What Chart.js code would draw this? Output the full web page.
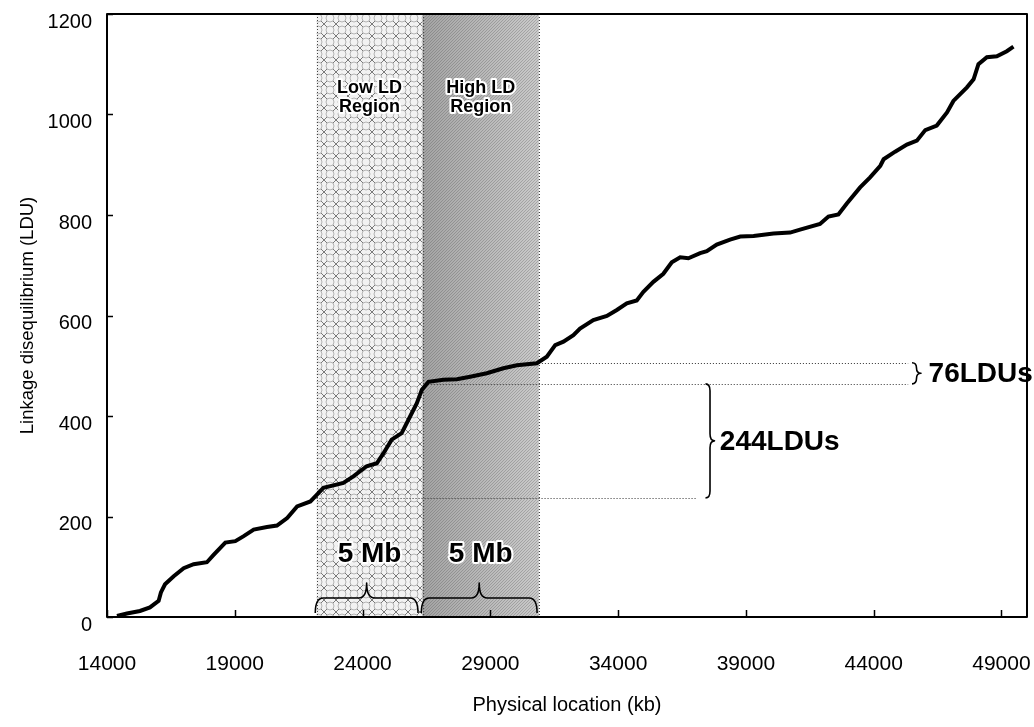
<!DOCTYPE html>
<html>
<head>
<meta charset="utf-8">
<script src="https://cdn.jsdelivr.net/npm/chart.js@4.4.0/dist/chart.umd.min.js"></script>
<style>
html, body { margin: 0; padding: 0; background: #fff; }
#graph { display: block; }
</style>
</head>
<body>
<canvas id="graph" width="1034" height="727"></canvas>
<script>
// cumulative LD map
var g_positionKb = [14390, 14780, 15290, 15680, 16020, 16110, 16270, 16610, 17000, 17390,
    17910, 18180, 18630, 19020, 19350, 19740, 20260, 20650, 21050, 21440,
    21960, 22150, 22470, 23250, 23640, 24160, 24560, 24820, 25140, 25530,
    25860, 26120, 26320, 26580, 27160, 27690, 28210, 28860, 29510, 30040,
    30820, 31210, 31540, 31860, 32250, 32510, 33030, 33560, 33950, 34340,
    34730, 34990, 35380, 35770, 36100, 36430, 36750, 37210, 37470, 37860,
    38380, 38780, 39300, 40080, 40730, 41120, 41900, 42230, 42620, 42950,
    43470, 43860, 44260, 44390, 44840, 45300, 45690, 46020, 46470, 46870,
    47120, 47650, 47910, 48100, 48430, 48820, 49210, 49470];
var g_ldu = [2, 7, 12, 19, 32, 49, 65, 81, 97, 105,
    109, 124, 148, 151, 161, 174, 179, 182, 197, 220,
    230, 240, 257, 267, 280, 300, 306, 326, 353, 366,
    399, 425, 452, 468, 472, 473, 478, 485, 495, 501,
    505, 518, 541, 548, 561, 574, 591, 599, 611, 624,
    630, 647, 667, 683, 706, 716, 714, 724, 728, 741,
    751, 757, 758, 763, 765, 771, 782, 797, 801, 823,
    855, 875, 898, 911, 926, 940, 948, 969, 978, 1004,
    1027, 1054, 1070, 1100, 1114, 1116, 1126, 1135];
var g_xTickValues = [14000, 19000, 24000, 29000, 34000, 39000, 44000, 49000];
var g_yTickValues = [0, 200, 400, 600, 800, 1000, 1200];

var g_lowRegion = [22200, 26350];
var g_highRegion = [26350, 30900];
var g_lowLabel = ["Low LD", "Region"];
var g_highLabel = ["High LD", "Region"];
var g_sizeLabel = "5 Mb";
var g_lowBrace = [22150, 26170];
var g_highBrace = [26300, 30830];

// dotted guide lines: [ldu, fromKb, toKb]
var g_guides = [[506, 30900, 45350], [464, 26550, 45350], [237, 22200, 37100]];
// gap braces: [kb, topLdu, bottomLdu, label, labelKb]
var g_gaps = [[45500, 506, 464, "76LDUs", 46150], [37420, 464, 237, "244LDUs", 37980]];

var g_font = "'Liberation Sans', Arial, sans-serif";

function makeLowPattern(ctx) {
    var c = document.createElement("canvas");
    c.width = 12;
    c.height = 12;
    var p = c.getContext("2d");
    p.fillStyle = "#f2f2f2";
    p.fillRect(0, 0, 12, 12);
    p.strokeStyle = "#b4b4b4";
    p.lineWidth = 1;
    p.beginPath();
    p.arc(6, 6, 4, 0, 2 * Math.PI);
    p.stroke();
    p.strokeStyle = "#7a7a7a";
    p.beginPath();
    p.moveTo(0, 0); p.lineTo(3, 3);
    p.moveTo(12, 0); p.lineTo(9, 3);
    p.moveTo(0, 12); p.lineTo(3, 9);
    p.moveTo(12, 12); p.lineTo(9, 9);
    p.stroke();
    return ctx.createPattern(c, "repeat");
}

function makeHighTexture(ctx) {
    var c = document.createElement("canvas");
    c.width = 3;
    c.height = 3;
    var p = c.getContext("2d");
    p.fillStyle = "rgba(60,60,60,0.25)";
    p.fillRect(0, 0, 1, 1);
    p.fillRect(2, 1, 1, 1);
    p.fillRect(1, 2, 1, 1);
    return ctx.createPattern(c, "repeat");
}

function haloText(ctx, text, x, y) {
    ctx.lineWidth = 4;
    ctx.strokeStyle = "#fff";
    ctx.lineJoin = "round";
    ctx.strokeText(text, x, y);
    ctx.fillStyle = "#000";
    ctx.fillText(text, x, y);
}

// brace pointing up, ends resting on baseY
function braceUp(ctx, left, right, baseY) {
    var mid = (left + right) / 2;
    var half = 15, r = 8;
    ctx.beginPath();
    ctx.moveTo(left, baseY);
    ctx.quadraticCurveTo(left, baseY - half, left + r, baseY - half);
    ctx.lineTo(mid - r, baseY - half);
    ctx.quadraticCurveTo(mid, baseY - half, mid, baseY - 2 * half);
    ctx.quadraticCurveTo(mid, baseY - half, mid + r, baseY - half);
    ctx.lineTo(right - r, baseY - half);
    ctx.quadraticCurveTo(right, baseY - half, right, baseY);
    ctx.stroke();
}

// brace pointing right
function braceRight(ctx, x, top, bottom) {
    var mid = (top + bottom) / 2;
    var w = 9, r = Math.min(7, (bottom - top) / 4);
    ctx.beginPath();
    ctx.moveTo(x, top);
    ctx.quadraticCurveTo(x + w / 2, top, x + w / 2, top + r);
    ctx.lineTo(x + w / 2, mid - r);
    ctx.quadraticCurveTo(x + w / 2, mid, x + w, mid);
    ctx.quadraticCurveTo(x + w / 2, mid, x + w / 2, mid + r);
    ctx.lineTo(x + w / 2, bottom - r);
    ctx.quadraticCurveTo(x + w / 2, bottom, x, bottom);
    ctx.stroke();
}

var regionsPlugin = {
    id: "regions",
    beforeDatasetsDraw: function (chart) {
        var ctx = chart.ctx;
        var area = chart.chartArea;
        var xs = chart.scales.x;
        var lx0 = xs.getPixelForValue(g_lowRegion[0]);
        var lx1 = xs.getPixelForValue(g_lowRegion[1]);
        var hx0 = xs.getPixelForValue(g_highRegion[0]);
        var hx1 = xs.getPixelForValue(g_highRegion[1]);
        ctx.save();
        ctx.fillStyle = makeLowPattern(ctx);
        ctx.fillRect(lx0, area.top, lx1 - lx0, area.bottom - area.top);
        var grad = ctx.createLinearGradient(hx0, 0, hx1, 0);
        grad.addColorStop(0, "#a4a4a4");
        grad.addColorStop(0.5, "#b8b8b8");
        grad.addColorStop(1, "#cacaca");
        ctx.fillStyle = grad;
        ctx.fillRect(hx0, area.top, hx1 - hx0, area.bottom - area.top);
        ctx.fillStyle = makeHighTexture(ctx);
        ctx.fillRect(hx0, area.top, hx1 - hx0, area.bottom - area.top);
        // dotted region edges
        ctx.strokeStyle = "#444";
        ctx.lineWidth = 1;
        ctx.setLineDash([1, 2]);
        [lx0, lx1, hx1].forEach(function (x) {
            ctx.beginPath();
            ctx.moveTo(Math.round(x) + 0.5, area.top);
            ctx.lineTo(Math.round(x) + 0.5, area.bottom);
            ctx.stroke();
        });
        // guide lines
        var ys = chart.scales.y;
        ctx.strokeStyle = "#333";
        g_guides.forEach(function (g) {
            var y = Math.round(ys.getPixelForValue(g[0])) + 0.5;
            ctx.beginPath();
            ctx.moveTo(xs.getPixelForValue(g[1]), y);
            ctx.lineTo(xs.getPixelForValue(g[2]), y);
            ctx.stroke();
        });
        ctx.restore();
    },
    afterDraw: function (chart) {
        var ctx = chart.ctx;
        var area = chart.chartArea;
        var xs = chart.scales.x;
        var ys = chart.scales.y;
        ctx.save();
        // region captions
        ctx.font = "bold 18px " + g_font;
        ctx.textAlign = "center";
        ctx.textBaseline = "middle";
        var lc = xs.getPixelForValue((g_lowRegion[0] + g_lowRegion[1]) / 2);
        var hc = xs.getPixelForValue((g_highRegion[0] + g_highRegion[1]) / 2);
        for (var i = 0; i < 2; i++) {
            haloText(ctx, g_lowLabel[i], lc, area.top + 74 + i * 19);
            haloText(ctx, g_highLabel[i], hc, area.top + 74 + i * 19);
        }
        ctx.font = "bold 28px " + g_font;
        haloText(ctx, g_sizeLabel, lc, ys.getPixelForValue(125));
        haloText(ctx, g_sizeLabel, hc, ys.getPixelForValue(125));

        // braces
        ctx.strokeStyle = "#000";
        ctx.lineWidth = 1.6;
        ctx.setLineDash([]);
        braceUp(ctx, xs.getPixelForValue(g_lowBrace[0]), xs.getPixelForValue(g_lowBrace[1]), area.bottom - 4);
        braceUp(ctx, xs.getPixelForValue(g_highBrace[0]), xs.getPixelForValue(g_highBrace[1]), area.bottom - 4);
        ctx.textAlign = "left";
        g_gaps.forEach(function (g) {
            var top = ys.getPixelForValue(g[1]);
            var bottom = ys.getPixelForValue(g[2]);
            ctx.strokeStyle = "#000";
            ctx.lineWidth = 1.6;
            braceRight(ctx, xs.getPixelForValue(g[0]), top, bottom);
            ctx.fillStyle = "#000";
            ctx.fillText(g[3], xs.getPixelForValue(g[4]), (top + bottom) / 2 + 1);
        });

        // frame and inward ticks
        ctx.strokeStyle = "#000";
        ctx.lineWidth = 2;
        ctx.strokeRect(area.left, area.top, area.right - area.left, area.bottom - area.top);
        ctx.lineWidth = 1.5;
        ctx.beginPath();
        g_xTickValues.forEach(function (v) {
            var x = Math.round(xs.getPixelForValue(v)) + 0.5;
            ctx.moveTo(x, area.bottom);
            ctx.lineTo(x, area.bottom - 7);
        });
        g_yTickValues.forEach(function (v) {
            var y = Math.round(ys.getPixelForValue(v)) + 0.5;
            ctx.moveTo(area.left, y);
            ctx.lineTo(area.left + 6, y);
        });
        ctx.stroke();
        ctx.restore();
    }
};

var ctx = document.getElementById("graph").getContext("2d");
var points = g_positionKb.map(function (kb, i) { return { x: kb, y: g_ldu[i] }; });

var g_chart = new Chart(ctx, {
    type: "line",
    data: {
        datasets: [{
            data: points,
            borderColor: "#000",
            borderWidth: 4,
            pointRadius: 0,
            tension: 0,
            fill: false
        }]
    },
    options: {
        responsive: false,
        animation: false,
        devicePixelRatio: 1,
        layout: { padding: { top: 14, right: 7, left: 0, bottom: 0 } },
        plugins: { legend: { display: false }, tooltip: { enabled: false } },
        scales: {
            x: {
                type: "linear",
                min: 14000,
                max: 50000,
                afterBuildTicks: function (scale) {
                    scale.ticks = g_xTickValues.map(function (v) { return { value: v }; });
                },
                afterFit: function (scale) {
                    scale.height = 110;
                    scale.paddingLeft = 0;
                    scale.paddingRight = 0;
                },
                grid: { display: false, drawTicks: false },
                border: { display: false },
                ticks: {
                    padding: 35,
                    color: "#000",
                    maxRotation: 0,
                    font: { family: g_font, size: 21 },
                    callback: function (v) { return String(v); }
                },
                title: {
                    display: true,
                    text: "Physical location (kb)",
                    color: "#000",
                    font: { family: g_font, size: 20 },
                    padding: { top: 0, bottom: 10 }
                }
            },
            y: {
                min: 0,
                max: 1200,
                afterBuildTicks: function (scale) {
                    scale.ticks = g_yTickValues.map(function (v) { return { value: v }; });
                },
                afterFit: function (scale) {
                    scale.width = 107;
                    scale.paddingTop = 0;
                    scale.paddingBottom = 0;
                },
                grid: { display: false, drawTicks: false },
                border: { display: false },
                ticks: {
                    padding: 15,
                    labelOffset: 8,
                    color: "#000",
                    font: { family: g_font, size: 20 },
                    callback: function (v) { return String(v); }
                },
                title: {
                    display: true,
                    text: "Linkage disequilibrium (LDU)",
                    color: "#000",
                    font: { family: g_font, size: 18.5 },
                    padding: { top: 17, bottom: 0 }
                }
            }
        }
    },
    plugins: [regionsPlugin]
});
</script>
</body>
</html>
